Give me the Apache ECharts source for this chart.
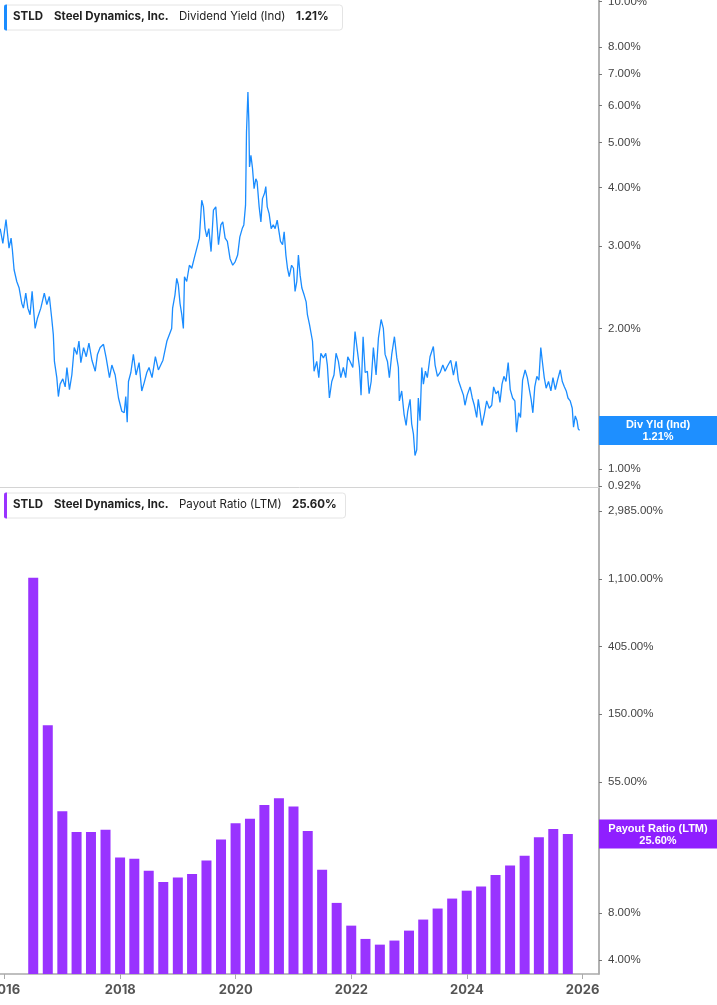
<!DOCTYPE html>
<html><head><meta charset="utf-8">
<script src="https://cdn.jsdelivr.net/npm/echarts@6/dist/echarts.min.js"></script>
<style>html,body{margin:0;padding:0;background:#fff}#c{width:717px;height:1005px}</style>
</head><body><div id="c"></div>
<script>
// ---- Dividend yield (Ind), % ----
const divDates = [
'2015-12-04','2015-12-21','2016-01-10','2016-01-18','2016-01-29','2016-02-11','2016-02-19','2016-03-01','2016-03-18','2016-04-02',
'2016-04-19','2016-04-29','2016-05-14','2016-05-27','2016-06-10','2016-06-23','2016-07-12','2016-07-26','2016-08-17','2016-09-08',
'2016-09-24','2016-10-10','2016-10-25','2016-11-04','2016-11-11','2016-11-26','2016-12-06','2016-12-17','2017-01-03','2017-01-18',
'2017-01-29','2017-02-14','2017-03-01','2017-03-16','2017-04-02','2017-04-15','2017-04-27','2017-05-14','2017-05-31','2017-06-17',
'2017-07-06','2017-07-27','2017-08-10','2017-08-27','2017-09-17','2017-10-04','2017-10-25','2017-11-09','2017-11-30','2017-12-21',
'2018-01-11','2018-01-26','2018-02-05','2018-02-14','2018-02-22','2018-03-09','2018-03-25','2018-04-11','2018-04-30','2018-05-17',
'2018-06-01','2018-06-18','2018-07-02','2018-07-21','2018-08-11','2018-08-30','2018-09-28','2018-10-23','2018-11-22','2018-11-28',
'2018-12-13','2018-12-24','2019-01-03','2019-01-14','2019-01-25','2019-02-04','2019-02-11','2019-02-25','2019-03-14','2019-03-29',
'2019-04-13','2019-04-30','2019-05-16','2019-05-31','2019-06-11','2019-06-21','2019-07-02','2019-07-15','2019-07-29','2019-08-13',
'2019-08-28','2019-09-14','2019-09-29','2019-10-11','2019-10-26','2019-11-09','2019-11-26','2019-12-13','2019-12-29','2020-01-13',
'2020-01-27','2020-02-11','2020-02-21','2020-03-03','2020-03-09','2020-03-18','2020-03-24','2020-03-28','2020-04-06','2020-04-16',
'2020-04-26','2020-05-07','2020-05-15','2020-05-28','2020-06-08','2020-06-18','2020-07-01','2020-07-09','2020-07-18','2020-07-30',
'2020-08-12','2020-08-25','2020-09-06','2020-09-19','2020-09-30','2020-10-10','2020-10-23','2020-11-02','2020-11-13','2020-11-23',
'2020-12-04','2020-12-19','2020-12-31','2021-01-10','2021-01-21','2021-01-31','2021-02-11','2021-02-22','2021-03-08','2021-03-21',
'2021-03-29','2021-04-11','2021-04-30','2021-05-10','2021-05-27','2021-06-09','2021-06-22','2021-07-08','2021-07-23','2021-08-02',
'2021-08-15','2021-08-30','2021-09-13','2021-09-26','2021-10-11','2021-10-26','2021-11-11','2021-11-26','2021-12-09','2021-12-24',
'2022-01-10','2022-01-24','2022-02-08','2022-02-21','2022-03-03','2022-03-16','2022-03-29','2022-04-12','2022-04-23','2022-05-06',
'2022-05-20','2022-06-06','2022-06-21','2022-07-08','2022-07-22','2022-08-02','2022-08-17','2022-08-29','2022-09-13','2022-09-30',
'2022-10-15','2022-10-25','2022-10-31','2022-11-15','2022-11-30','2022-12-13','2022-12-23','2023-01-07','2023-01-17','2023-01-28',
'2023-02-07','2023-02-18','2023-02-28','2023-03-11','2023-03-22','2023-04-01','2023-04-14','2023-04-26','2023-05-13','2023-06-03',
'2023-06-14','2023-06-29','2023-07-16','2023-08-02','2023-08-16','2023-08-31','2023-09-21','2023-10-08','2023-10-25','2023-11-08',
'2023-11-25','2023-12-10','2023-12-20','2024-01-03','2024-01-21','2024-02-04','2024-02-17','2024-03-03','2024-03-13','2024-03-24',
'2024-04-05','2024-04-20','2024-05-05','2024-05-21','2024-06-06','2024-06-18','2024-07-03','2024-07-17','2024-07-28','2024-08-10',
'2024-08-22','2024-09-04','2024-09-18','2024-10-01','2024-10-16','2024-10-30','2024-11-10','2024-11-23','2024-12-05','2024-12-18',
'2025-01-03','2025-01-17','2025-01-30','2025-02-10','2025-02-21','2025-03-05','2025-03-18','2025-03-31','2025-04-12','2025-04-21',
'2025-05-04','2025-05-16','2025-05-31','2025-06-15','2025-06-28','2025-07-13','2025-07-27','2025-08-13','2025-08-26','2025-09-08',
'2025-09-20','2025-10-01','2025-10-15','2025-10-28','2025-11-05','2025-11-16','2025-11-27','2025-12-05','2025-12-13'
];
const divValues = [
3.27,3.04,3.42,3.44,2.97,3.12,2.95,2.67,2.52,2.44,
2.26,2.21,2.38,2.21,2.14,2.40,2.00,2.10,2.21,2.38,
2.25,2.34,2.10,1.94,1.70,1.57,1.43,1.52,1.56,1.50,
1.65,1.48,1.59,1.82,1.76,1.88,1.69,1.82,1.74,1.86,
1.71,1.62,1.76,1.82,1.85,1.73,1.57,1.67,1.59,1.42,
1.33,1.32,1.43,1.26,1.54,1.61,1.76,1.59,1.69,1.47,
1.53,1.61,1.65,1.57,1.74,1.63,1.71,1.88,2.00,2.21,
2.36,2.56,2.48,2.26,2.14,2.00,2.58,2.52,2.73,2.69,
2.82,2.97,3.12,3.76,3.64,3.27,3.14,3.27,2.92,3.58,
3.64,3.02,3.33,3.38,3.12,3.07,2.82,2.73,2.78,2.87,
3.14,3.27,3.33,3.67,5.26,6.41,5.53,4.43,4.69,4.40,
3.98,4.18,4.12,3.64,3.38,3.79,3.89,4.02,3.64,3.52,
3.27,3.33,3.27,3.41,3.44,3.07,3.02,3.22,2.87,2.69,
2.58,2.73,2.69,2.40,2.52,2.87,2.60,2.44,2.36,2.28,
2.14,2.04,1.88,1.62,1.70,1.57,1.77,1.73,1.77,1.67,
1.42,1.54,1.59,1.77,1.70,1.57,1.65,1.57,1.74,1.70,
1.65,1.97,1.79,1.65,1.44,1.92,1.61,1.62,1.45,1.54,
1.82,1.59,1.91,2.09,2.00,1.76,1.70,1.57,1.76,1.92,
1.73,1.65,1.40,1.47,1.31,1.24,1.33,1.41,1.25,1.19,
1.07,1.10,1.42,1.27,1.65,1.52,1.62,1.57,1.74,1.83,
1.67,1.58,1.61,1.67,1.62,1.66,1.71,1.59,1.70,1.55,
1.49,1.44,1.37,1.44,1.50,1.42,1.37,1.29,1.41,1.33,
1.24,1.31,1.40,1.35,1.37,1.50,1.45,1.47,1.39,1.52,
1.58,1.54,1.69,1.48,1.42,1.40,1.20,1.32,1.29,1.55,
1.63,1.57,1.48,1.41,1.32,1.50,1.58,1.55,1.82,1.71,
1.57,1.49,1.54,1.47,1.57,1.48,1.55,1.63,1.54,1.50,
1.47,1.42,1.40,1.35,1.23,1.30,1.27,1.22,1.21
];
// ---- Payout ratio (LTM), %, quarterly ----
const payoutDates = [
'2016-06-30','2016-09-30','2016-12-31','2017-03-31','2017-06-30','2017-09-30','2017-12-31','2018-03-31','2018-06-30','2018-09-30',
'2018-12-31','2019-03-31','2019-06-30','2019-09-30','2019-12-31','2020-03-31','2020-06-30','2020-09-30','2020-12-31','2021-03-31',
'2021-06-30','2021-09-30','2021-12-31','2022-03-31','2022-06-30','2022-09-30','2022-12-31','2023-03-31','2023-06-30','2023-09-30',
'2023-12-31','2024-03-31','2024-06-30','2024-09-30','2024-12-31','2025-03-31','2025-06-30','2025-09-30'
];
const payoutValues = [
1120,127,35.8,26.4,26.4,27.3,18.1,17.8,14.9,12.6,
13.5,14.2,17.3,23.6,30.0,32.1,39.3,43.4,38.4,26.8,
15.1,9.27,6.63,5.45,5.01,5.32,6.16,7.25,8.53,9.88,
11.1,11.8,14.0,16.1,18.6,24.4,27.6,25.6
];
// ---- ticks ----
const yieldTicks = [0.92,1,2,3,4,5,6,7,8,10];
const yieldTickLabels = ['0.92%','1.00%','2.00%','3.00%','4.00%','5.00%','6.00%','7.00%','8.00%','10.00%'];
const payoutTicks = [4,8,25,55,150,405,1100,2985];
const payoutTickLabels = ['4.00%','8.00%','25.00%','55.00%','150.00%','405.00%','1,100.00%','2,985.00%'];
const yearTicks = [2016,2018,2020,2022,2024,2026];
const lastYield = 1.21;
const lastPayout = 25.60;

const BLUE = '#1a8cff', PURPLE = '#9933ff';
function ts(s) { const p = s.split('-').map(Number); return Date.UTC(p[0], p[1] - 1, p[2]); }
const yearTs = yearTicks.map(y => Date.UTC(y, 0, 1));
const xMin = Date.UTC(2015, 11, 3);
const xMax = Date.UTC(2026, 3, 15);

function pickLabel(ticks, labels, v) {
  let best = 0, bd = Infinity;
  ticks.forEach((t, i) => { const d = Math.abs(Math.log(t) - Math.log(v)); if (d < bd) { bd = d; best = i; } });
  return labels[best];
}
const axisLabelFont = {color: '#444', fontSize: 11.5, fontFamily: 'Liberation Sans, Arial, sans-serif'};

function legend(y, color, metric, value, metricX, valueX, w) {
  const cy = y + 12.5;
  return [
    {type: 'rect', shape: {x: 4.5, y: y + 0.5, width: w, height: 25, r: 3}, style: {fill: '#fff', stroke: '#e4e4e4', lineWidth: 1}},
    {type: 'rect', shape: {x: 4, y: y, width: 3, height: 26, r: [2, 0, 0, 2]}, style: {fill: color}},
    {type: 'text', x: 13, y: cy, style: {text: 'STLD', fontSize: 11.5, fontWeight: 'bold', fontFamily: 'Inter', fill: '#222', verticalAlign: 'middle'}},
    {type: 'text', x: 54, y: cy, style: {text: 'Steel Dynamics, Inc.', fontSize: 11.5, fontWeight: 'bold', fontFamily: 'Inter', fill: '#222', verticalAlign: 'middle'}},
    {type: 'text', x: metricX, y: cy, style: {text: metric, fontSize: 11.5, fontFamily: 'Inter', fill: '#222', verticalAlign: 'middle'}},
    {type: 'text', x: valueX, y: cy, style: {text: value, fontSize: 11.5, fontWeight: 'bold', fontFamily: 'Inter', fill: '#222', verticalAlign: 'middle'}}
  ];
}

function tagLabel(title, value, bg) {
  return {
    show: true, position: 'end', distance: 0, width: 110, padding: [3, 4, 2, 4],
    backgroundColor: bg, opacity: 1,
    formatter: '{t|' + title + '}\n{t|' + value + '}',
    rich: {t: {align: 'center', color: '#fff', fontWeight: 'bold', fontSize: 11, lineHeight: 12, fontFamily: 'Liberation Sans, Arial, sans-serif'}}
  };
}

const chart = echarts.init(document.getElementById('c'), null, {renderer: 'canvas'});
chart.setOption({
  animation: false,
  backgroundColor: '#fff',
  grid: [
    {left: 0, right: 118, top: 0, height: 487, containLabel: false, outerBoundsMode: 'none'},
    {left: 0, right: 118, top: 488, height: 486, containLabel: false, outerBoundsMode: 'none'}
  ],
  xAxis: [
    {type: 'value', gridIndex: 0, min: xMin, max: xMax, scale: true,
     axisLine: {show: true, onZero: false, lineStyle: {color: '#d4d4d4', width: 1}},
     axisTick: {show: false}, axisLabel: {show: false}, splitLine: {show: false}},
    {type: 'value', gridIndex: 1, min: xMin, max: xMax, scale: true,
     axisLine: {show: true, onZero: false, lineStyle: {color: '#aaa', width: 1.5}},
     axisTick: {show: true, customValues: yearTs, length: 5, lineStyle: {color: '#aaa'}},
     axisLabel: {show: true, customValues: yearTs, formatter: v => String(new Date(v).getUTCFullYear()),
                 color: '#555', fontSize: 13, fontWeight: 'bold', fontFamily: 'Inter', margin: 10},
     splitLine: {show: false}}
  ],
  yAxis: [
    {type: 'log', gridIndex: 0, position: 'right', min: 0.916, max: 10.08, logBase: 10,
     axisLine: {show: true, lineStyle: {color: '#999', width: 1.5}},
     axisTick: {show: true, customValues: yieldTicks, length: 3, lineStyle: {color: '#777'}},
     axisLabel: Object.assign({show: true, customValues: yieldTicks, margin: 9,
                 formatter: v => pickLabel(yieldTicks, yieldTickLabels, v)}, axisLabelFont),
     splitLine: {show: false}, minorTick: {show: false}},
    {type: 'log', gridIndex: 1, position: 'right', min: 3.25, max: 4200, logBase: Math.E,
     axisLine: {show: true, lineStyle: {color: '#999', width: 1.5}},
     axisTick: {show: true, customValues: payoutTicks, length: 3, lineStyle: {color: '#777'}},
     axisLabel: Object.assign({show: true, customValues: payoutTicks, margin: 9,
                 formatter: v => pickLabel(payoutTicks, payoutTickLabels, v)}, axisLabelFont),
     splitLine: {show: false}, minorTick: {show: false}}
  ],
  series: [
    {type: 'line', xAxisIndex: 0, yAxisIndex: 0,
     data: divDates.map((d, i) => [ts(d), divValues[i]]),
     showSymbol: false, symbol: 'none', lineStyle: {color: BLUE, width: 1.3}, itemStyle: {color: BLUE},
     clip: true,
     markLine: {silent: true, symbol: ['none', 'none'], lineStyle: {color: 'rgba(0,0,0,0)', width: 0, type: 'solid'},
                label: tagLabel('Div Yld (Ind)', lastYield.toFixed(2) + '%', '#1e8fff'),
                data: [{yAxis: lastYield}]}},
    {type: 'bar', xAxisIndex: 1, yAxisIndex: 1,
     data: payoutDates.map((d, i) => [ts(d), payoutValues[i]]),
     barWidth: 10, clip: true, itemStyle: {color: PURPLE},
     markLine: {silent: true, symbol: ['none', 'none'], lineStyle: {color: 'rgba(0,0,0,0)', width: 0, type: 'solid'},
                label: tagLabel('Payout Ratio (LTM)', lastPayout.toFixed(2) + '%', '#8f1fff'),
                data: [{yAxis: lastPayout}]}}
  ],
  graphic: [].concat(
    legend(4.5, BLUE, 'Dividend Yield (Ind)', lastYield.toFixed(2) + '%', 179, 296, 338),
    legend(492.5, PURPLE, 'Payout Ratio (LTM)', lastPayout.toFixed(2) + '%', 179, 292, 341)
  )
});
</script></body></html>
